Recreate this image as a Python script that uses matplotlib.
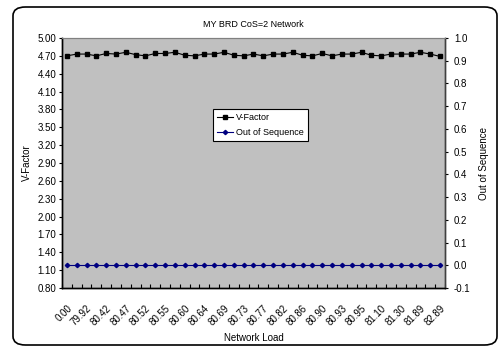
import matplotlib
matplotlib.use('Agg')
import numpy as np
import matplotlib.pyplot as plt
from matplotlib.patches import FancyBboxPatch
from matplotlib.ticker import FixedLocator, FormatStrFormatter

plt.rcParams['font.family'] = ['Liberation Sans', 'DejaVu Sans']

title = 'MY BRD CoS=2 Network'
tick_labels = ['0.00', '79.92', '80.42', '80.47', '80.52', '80.55', '80.60', '80.64',
               '80.69', '80.73', '80.77', '80.82', '80.86', '80.90', '80.93', '80.95',
               '81.10', '81.30', '81.89', '82.89']
v_factor = [4.70, 4.73, 4.73, 4.70, 4.74, 4.73, 4.76, 4.72, 4.70, 4.74,
            4.74, 4.76, 4.71, 4.70, 4.73, 4.73, 4.76, 4.71, 4.70, 4.73,
            4.70, 4.73, 4.73, 4.76, 4.71, 4.70, 4.74, 4.70, 4.73, 4.73,
            4.76, 4.71, 4.70, 4.73, 4.73, 4.73, 4.76, 4.73, 4.69]
out_of_seq = [0.0] * len(v_factor)

n = len(v_factor)
x = list(range(n))
fs = 7
fs_small = 6.5

fig = plt.figure(figsize=(5.0, 3.47), dpi=100)

# chart area border
border = FancyBboxPatch((13 / 500, 2 / 347), 484 / 500, 338 / 347,
                        boxstyle='round,pad=0,rounding_size=0.025',
                        transform=fig.transFigure, facecolor='white',
                        edgecolor='black', linewidth=1.2, zorder=-10)
fig.patches.append(border)

ax = fig.add_axes([62 / 500, 1 - 288 / 347, 383 / 500, 250 / 347])
ax.set_facecolor('#c0c0c0')
l1, = ax.plot(x, v_factor, color='black', marker='s', markersize=3.2,
              linewidth=0.8, label='V-Factor')
ax.set_xlim(-0.5, n - 0.5)
ax.set_ylim(0.80, 5.00)
ax.yaxis.set_major_locator(FixedLocator(np.round(np.arange(0.80, 5.01, 0.30), 2)))
ax.yaxis.set_major_formatter(FormatStrFormatter('%.2f'))
ax.set_xticks(x[::2])
ax.set_xticklabels(tick_labels, rotation=45, ha='right', rotation_mode='anchor')
ax.xaxis.set_minor_locator(FixedLocator([i - 0.5 for i in range(n + 1)]))
ax.tick_params(axis='x', which='major', length=0, labelsize=fs, pad=11)
ax.tick_params(axis='x', which='minor', direction='in', length=3, width=0.8)
ax.tick_params(axis='y', length=2, width=0.8, labelsize=fs, pad=2)
ax.set_ylabel('V-Factor', fontsize=fs, labelpad=4)
ax.set_xlabel('Network Load', fontsize=fs, labelpad=4)
ax.set_title(title, fontsize=fs_small, pad=8)

ax2 = ax.twinx()
l2, = ax2.plot(x, out_of_seq, color='#000080', marker='D', markersize=2.2,
               linewidth=0.8, label='Out of Sequence')
ax2.set_ylim(-0.1, 1.0)
ax2.yaxis.set_major_locator(FixedLocator(np.round(np.arange(-0.1, 1.01, 0.1), 1)))
ax2.yaxis.set_major_formatter(FormatStrFormatter('%.1f'))
ax2.tick_params(axis='y', length=2.5, width=0.8, labelsize=fs, pad=4)
ax2.set_ylabel('Out of Sequence', fontsize=fs, labelpad=6)

for a in (ax, ax2):
    a.spines['top'].set_color('#808080')
    a.spines['left'].set_linewidth(1.0)
    a.spines['bottom'].set_linewidth(1.0)
    a.spines['right'].set_color('#404040')
    a.spines['right'].set_linewidth(1.0)

leg = ax2.legend(handles=[l1, l2], loc='upper left', bbox_to_anchor=(0.394, 0.716),
                 fontsize=fs_small, frameon=True, fancybox=False, borderpad=0.45,
                 handlelength=1.8, handletextpad=0.3, labelspacing=0.7, borderaxespad=0)
leg.get_frame().set_edgecolor('black')
leg.get_frame().set_linewidth(0.8)
leg.get_frame().set_alpha(1.0)

fig.savefig('out.png', dpi=100)
